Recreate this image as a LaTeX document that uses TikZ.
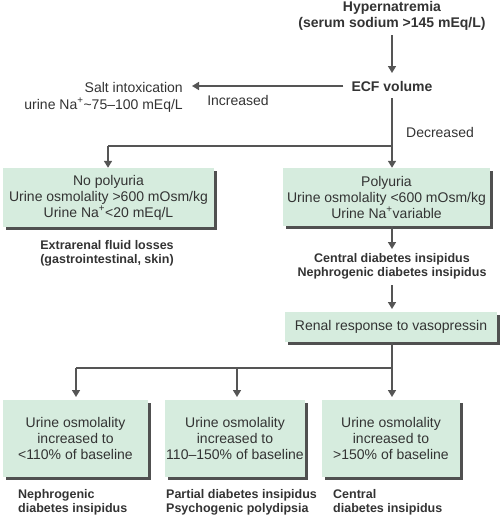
\documentclass[tikz,border=0pt]{standalone}
\usepackage{fontspec}
\setmainfont{Liberation Sans}
\usepackage{xcolor}
\usepackage{tikz}
\usetikzlibrary{arrows.meta,shadows}
\definecolor{ink}{HTML}{333333}
\definecolor{wire}{HTML}{555555}
\definecolor{mint}{HTML}{D6ECDE}
\definecolor{shade}{HTML}{505050}
\tikzset{
  box/.style={fill=mint, text=ink, align=center, inner sep=0pt,
    font=\fontsize{14}{16}\selectfont,
    drop shadow={shadow xshift=2.5pt, shadow yshift=-2.5pt, fill=shade, opacity=1}},
  txt/.style={text=ink, font=\fontsize{14}{17}\selectfont, inner sep=0pt},
  head/.style={text=ink, font=\fontsize{14}{16}\selectfont\bfseries, align=center, inner sep=0pt},
  note/.style={text=ink, font=\fontsize{12.5}{14}\selectfont\bfseries, inner sep=0pt},
  arr/.style={draw=wire, line width=1.6pt, -{Triangle[length=7pt,width=8pt]}},
  wire/.style={draw=wire, line width=1.6pt}
}
\begin{document}
\begin{tikzpicture}[x=1pt,y=-1pt]
\useasboundingbox (0,0) rectangle (500,517);
% top of the chart
\node[head] (hyper) at (392,15.5) {Hypernatremia\\(serum sodium >145 mEq/L)};
\node[head] (ecf) at (392,86) {ECF volume};
\node[txt, anchor=east, align=right] (salt) at (183,97) {Salt intoxication\\urine Na\textsuperscript{+}\textasciitilde75--100 mEq/L};
\node[txt] (incr) at (238,100) {Increased};
\node[txt] (decr) at (440,132) {Decreased};
\coordinate (split) at (392,146);
\draw[arr] (392,35) -- (392,73);
\draw[arr] ([xshift=-8pt]ecf.west) -- ([xshift=9pt]salt.east |- ecf.west);

% volume branch
\node[box, minimum width=211pt, minimum height=59pt] (nopoly) at (108.5,197.5)
  {No polyuria\\Urine osmolality >600 mOsm/kg\\Urine Na\textsuperscript{+}<20 mEq/L};
\node[box, minimum width=207pt, minimum height=58pt] (poly) at (386.5,197)
  {Polyuria\\Urine osmolality <600 mOsm/kg\\Urine Na\textsuperscript{+}variable};
\draw[wire] (392,98) -- (split) -- (108,146) coordinate (leftturn);
\draw[arr] (split) -- (split |- poly.north);
\draw[arr] (leftturn) -- (leftturn |- nopoly.north);
\node[note, align=center] (extra) at (107,253) {Extrarenal fluid losses\\(gastrointestinal, skin)};
\node[note, align=center] (cdi) at (392,266) {Central diabetes insipidus\\Nephrogenic diabetes insipidus};
\draw[arr] (split |- poly.south) -- (392,249);
\draw[arr] (392,285) -- (392,309);

% vasopressin test
\node[box, minimum width=212pt, minimum height=30pt] (renal) at (391,327) {Renal response to vasopressin};
\coordinate (branch) at (392,368);
\node[box, minimum width=145pt, minimum height=77pt] (low) at (75.5,438.5)
  {Urine osmolality\\increased to\\<110\% of baseline};
\node[box, minimum width=140pt, minimum height=77pt] (mid) at (235,438.5)
  {Urine osmolality\\increased to\\110--150\% of baseline};
\node[box, minimum width=138pt, minimum height=77pt] (high) at (391,438.5)
  {Urine osmolality\\increased to\\>150\% of baseline};
\draw[wire] (branch |- renal.south) -- (branch) -- (76,368);
\draw[arr] (76,368) -- (76,397);
\draw[arr] (237,368) -- (237,397);
\draw[arr] (branch) -- (392,397);
\node[note, anchor=north west, align=left] (ndi) at (18,489) {Nephrogenic\\diabetes insipidus};
\node[note, anchor=north west, align=left] (pdi) at (166,489) {Partial diabetes insipidus\\Psychogenic polydipsia};
\node[note, anchor=north west, align=left] (cdi2) at (333,489) {Central\\diabetes insipidus};
\end{tikzpicture}
\end{document}
